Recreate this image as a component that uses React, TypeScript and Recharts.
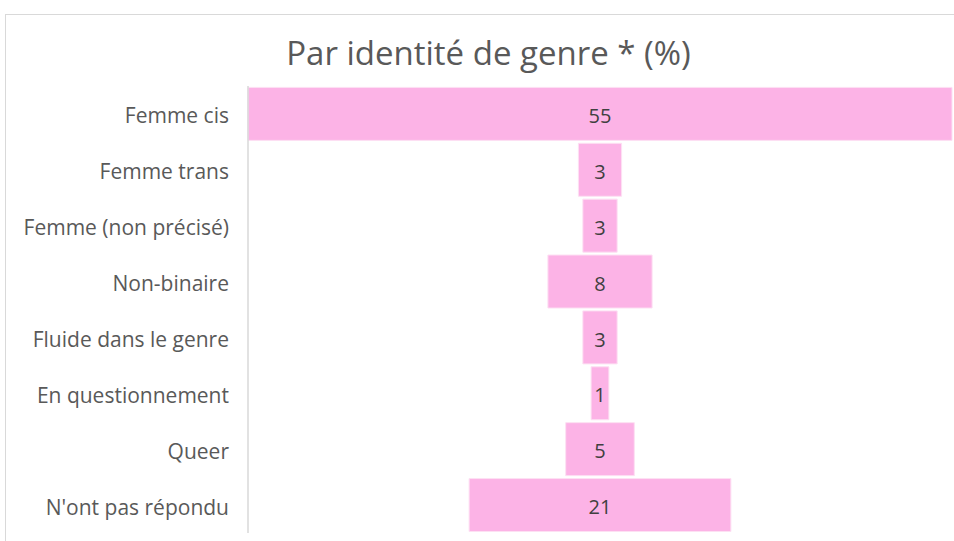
import { BarChart, Bar, XAxis, YAxis, LabelList } from 'recharts';

const categories = [
  'Femme cis',
  'Femme trans',
  'Femme (non précisé)',
  'Non-binaire',
  'Fluide dans le genre',
  'En questionnement',
  'Queer',
  "N'ont pas répondu",
];

const percentages = [55.4, 3.4, 2.7, 8.2, 2.7, 1.4, 5.4, 20.6];

const maxValue = Math.max(...percentages);

// invisible offset pushes each bar to the centre (funnel look)
const data = categories.map((name, i) => ({
  name,
  offset: (maxValue - percentages[i]) / 2,
  value: percentages[i],
}));

const FONT = '"Open Sans", Lato, sans-serif';

export default function App() {
  return (
    <div style={{ position: 'absolute', left: 0, top: 0, width: 954, height: 541, background: '#fff', overflow: 'hidden', fontFamily: FONT }}>
      <div
        style={{
          position: 'absolute',
          left: 5,
          top: 14,
          width: 1000,
          height: 600,
          border: '1px solid #d9d9d9',
        }}
      />
      <div
        style={{
          position: 'absolute',
          left: 0,
          top: 31,
          width: 977,
          textAlign: 'center',
          fontSize: 33,
          color: '#595959',
          lineHeight: '44px',
        }}
      >
        Par identité de genre * (%)
      </div>
      <div style={{ position: 'absolute', left: 0, top: 0 }}>
        <BarChart
          layout="vertical"
          width={954}
          height={541}
          data={data}
          margin={{ top: 86, right: 2, bottom: 8, left: 0 }}
          barCategoryGap={1.4}
        >
          <XAxis type="number" hide domain={[0, maxValue]} />
          <YAxis
            type="category"
            dataKey="name"
            width={248}
            axisLine={{ stroke: '#d9d9d9', strokeWidth: 1.5 }}
            tickLine={false}
            tickSize={6}
            tickMargin={13}
            tick={{ fill: '#595959', fontSize: 21, fontFamily: FONT, dy: 2 }}
            interval={0}
          />
          <Bar dataKey="offset" stackId="a" fill="transparent" isAnimationActive={false} />
          <Bar dataKey="value" stackId="a" fill="#fcb3e6" stroke="#fde0f3" strokeWidth={1} isAnimationActive={false}>
            <LabelList
              dataKey="value"
              position="center"
              dy={2}
              formatter={(v: any) => Math.round(Number(v))}
              style={{ fill: '#404040', fontSize: 20, fontFamily: FONT }}
            />
          </Bar>
        </BarChart>
      </div>
    </div>
  );
}
